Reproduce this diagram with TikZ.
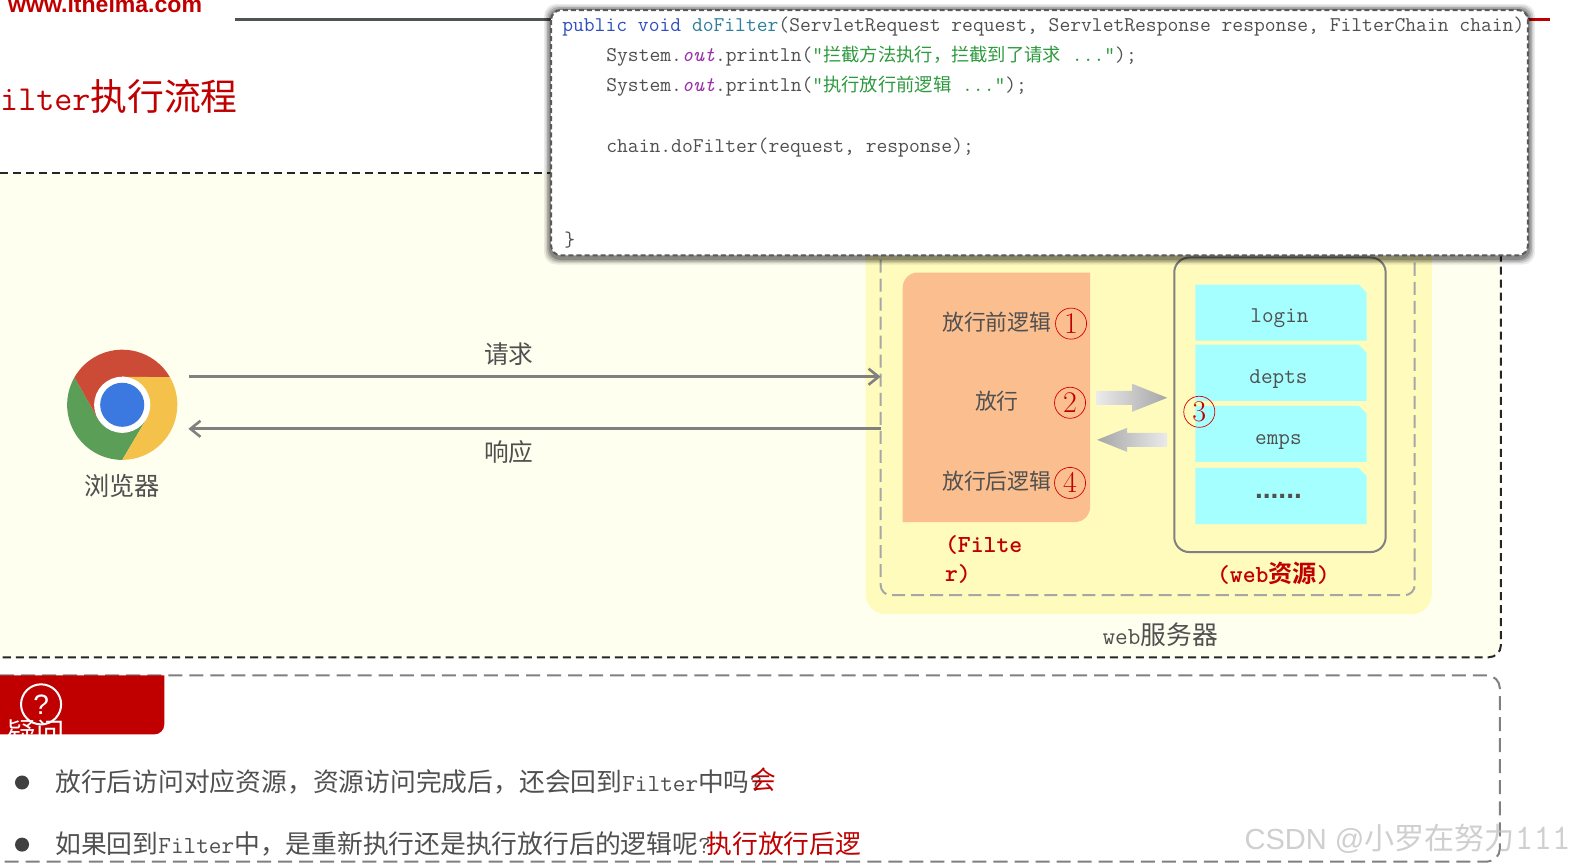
\documentclass[tikz,border=0pt]{standalone}
\usepackage{fontspec}
\usetikzlibrary{arrows.meta}
\newfontfamily\cj[Scale=1.05,BoldFont={Noto Sans CJK SC Bold}]{Noto Sans CJK SC}
\newfontfamily\hei{Liberation Sans}
\newcommand{\fs}[1]{\fontsize{#1}{#1}\selectfont}
\newcommand{\cc}[1]{{\cj #1}}
\newcommand{\sm}[1]{{\cj\fs{17.4}#1}}
\definecolor{brand}{HTML}{C00000}
\definecolor{paper}{HTML}{FFFFF0}
\definecolor{server}{HTML}{FFFBBD}
\definecolor{filterc}{HTML}{FBBE8E}
\definecolor{cyanb}{HTML}{A6FFFF}
\definecolor{txt}{HTML}{505050}
\definecolor{kw}{HTML}{2F4FBF}
\definecolor{fn}{HTML}{2F7F9F}
\definecolor{pur}{HTML}{9A2FA8}
\definecolor{str}{HTML}{2E9A3E}
\definecolor{rulec}{HTML}{4D5552}
\tikzset{
  x=1pt,y=1pt,
  lbl/.style={inner sep=0pt,text=txt,font=\ttfamily\fs{24.5}},
  codeline/.style={inner sep=0pt,anchor=base west,text=txt,font=\ttfamily\fs{20.95}},
  res/.style={inner sep=0pt,text=txt,font=\ttfamily\fs{22.5}},
  redbold/.style={inner sep=0pt,text=brand,font=\ttfamily\bfseries\fs{24.5}},
  numc/.style={circle,draw=red!85!black,line width=.7pt,minimum size=31pt,inner sep=0pt,text=brand,font=\fs{30}},
  flow/.style={draw=black!50,line width=3pt,-{Straight Barb[length=10pt,width=16pt,line width=2.6pt]}},
  snip/.style={fill=cyanb},
  wire/.style={line width=2pt,dash pattern=on 8pt off 5pt,draw=black!85},
}
\begin{document}
\begin{tikzpicture}
\useasboundingbox (0,0) rectangle (1568,-865);
\fill[white] (0,0) rectangle (1568,-865);
% header
\node[inner sep=0pt,anchor=base west,text=brand,font=\hei\bfseries\fs{23}] (site) at (8,-12) {www.itheima.com};
\coordinate (ruleA) at (235,-19);
\coordinate (ruleB) at (560,-19);
\draw[line width=3pt,draw=rulec] (ruleA) -- (ruleB);
\coordinate (ruleC) at (1520,-19);
\coordinate (ruleD) at (1547,-19);
\draw[line width=3pt,draw=brand] (ruleC) -- (ruleD);
\node[inner sep=0pt,anchor=base west,text=brand,font=\ttfamily\fs{35}] (title) at (0,-110) {ilter\cc{执行流程}};
% main panel
\fill[paper,rounded corners=12pt] (-20,-173) -- (1498,-173) -- (1498,-656) -- (-20,-656) -- cycle;
\draw[wire,rounded corners=12pt] (0,-173) -- (600,-173);
\draw[wire,rounded corners=12pt] (1498,-240) -- (1498,-656) -- (-5,-656);
% server
\fill[server,rounded corners=20pt] (864,-220) rectangle (1429,-613);
\draw[draw=black!35,line width=2pt,dash pattern=on 13pt off 6pt,rounded corners=10pt] (879,-240) -- (879,-594) -- (1412,-594) -- (1412,-240);
\fill[filterc] (901,-521) -- (901,-287) arc[start angle=180,end angle=90,radius=15] -- (1088,-272) -- (1088,-506) arc[start angle=0,end angle=-90,radius=15] -- cycle;
\draw[draw=black!50,line width=2pt,rounded corners=15pt] (1172,-257) rectangle (1383,-551);
\foreach \t in {284,344,405,467}{
  \fill[snip] (1193,-\t) -- (1356,-\t) -- (1364,-\t-8) -- (1364,-\t-56) -- (1193,-\t-56) -- cycle;
}
\node[res] (login) at (1277,-318) {login};
\node[res] (depts) at (1276,-378) {depts};
\node[res] (emps) at (1276,-441) {emps};
\node[res,font=\hei\bfseries\fs{28}] (more) at (1276,-495) {......};
\node[lbl] (before) at (995,-322) {\cc{\fs{20.8}放行前逻辑}};
\node[lbl] (pass) at (995,-400) {\cc{\fs{20.8}放行}};
\node[lbl] (after) at (995,-480) {\cc{\fs{20.8}放行后逻辑}};
\node[numc] (n1) at (1069,-323) {1};
\node[numc] (n2) at (1068,-402) {2};
\node[numc] (n3) at (1197,-411) {3};
\node[numc] (n4) at (1068,-482) {4};
\shade[left color=black!8,right color=black!35] (1094,-390) -- (1130,-390) -- (1130,-383) -- (1165,-397) -- (1130,-411) -- (1130,-404) -- (1094,-404) -- cycle;
\shade[left color=black!35,right color=black!8] (1165,-432) -- (1125,-432) -- (1125,-427) -- (1095,-439) -- (1125,-451) -- (1125,-446) -- (1165,-446) -- cycle;
\node[redbold,anchor=base west,align=left] (filt) at (943,-580.5) {(Filte\\[5pt]r)};
\node[redbold] (webres) at (1271,-572) {(web\cc{\fs{23}资源})};
\node[lbl] (server) at (1158,-633) {web\cc{服务器}};
% browser
\begin{scope}[shift={(122,-404)}]
\fill[fill={rgb,255:red,90;green,158;blue,87}] (150:55) arc[start angle=150,end angle=270,radius=55] -- (330:28) -- (0,0) -- (210:28) -- cycle;
\fill[fill={rgb,255:red,204;green,75;blue,55}] (30:55) arc[start angle=30,end angle=150,radius=55] -- (210:28) -- (0,0) -- (90:28) -- cycle;
\fill[fill={rgb,255:red,244;green,193;blue,74}] (-90:55) arc[start angle=-90,end angle=30,radius=55] -- (90:28) -- (0,0) -- (-30:28) -- cycle;
\fill[white] (0,0) circle[radius=28];
\fill[fill={rgb,255:red,59;green,120;blue,224}] (0,0) circle[radius=22];
\end{scope}
\node[lbl] (browser) at (122,-485) {\cc{\fs{24}浏览器}};
\coordinate (reqS) at (189,-376);
\coordinate (reqE) at (879,-376);
\coordinate (resS) at (879,-428);
\coordinate (resE) at (188,-428);
\draw[flow] (reqS) -- (reqE);
\draw[flow] (resS) -- (resE);
\node[lbl] (req) at (508,-353) {\cc{\fs{23.5}请求}};
\node[lbl] (resp) at (508,-451) {\cc{\fs{23.5}响应}};
% code card
\foreach \g/\o in {7/.08,5.5/.12,4/.16,2.5/.2}{
  \fill[black,opacity=\o,rounded corners=12pt] (550-\g,-10+\g-1) rectangle (1525+\g,-255-\g-2);
}
\fill[white,rounded corners=10pt] (550,-10) rectangle (1525,-255);
\draw[draw=black!65,line width=2pt,dash pattern=on 5pt off 3pt,rounded corners=10pt] (550,-10) rectangle (1525,-255);
\node[codeline] (c1) at (561,-31) {\textcolor{kw}{public void} \textcolor{fn}{doFilter}(ServletRequest request, ServletResponse response, FilterChain chain)};
\node[codeline] (c2) at (605,-61) {System.\textcolor{pur}{\itshape out}.println(\textcolor{str}{"\sm{拦截方法执行，拦截到了请求} ..."});};
\node[codeline] (c3) at (605,-91) {System.\textcolor{pur}{\itshape out}.println(\textcolor{str}{"\sm{执行放行前逻辑} ..."});};
\node[codeline] (c4) at (605,-152) {chain.doFilter(request, response);};
\node[codeline] (c5) at (563,-246) {\}};
% question panel
\draw[draw=black!50,line width=2pt,dash pattern=on 14pt off 7pt,rounded corners=13pt] (0,-674) -- (1497,-674) -- (1497,-860) -- (-5,-860);
\fill[brand] (0,-674) -- (164,-674) -- (164,-723) arc[start angle=0,end angle=-90,radius=10] -- (0,-733) -- cycle;
\begin{scope}
\clip (0,-674) rectangle (164,-733);
\node[inner sep=0pt,text=white,font=\fs{27}] (ask) at (36,-731) {\cc{疑问}};
\end{scope}
\node[circle,draw=white,line width=2pt,minimum size=40pt,inner sep=0pt,text=white,font=\hei\fs{28}] (qm) at (41,-703) {?};
\fill[black!75] (22,-781) circle[radius=7];
\fill[black!75] (22,-843) circle[radius=7];
\node[lbl,anchor=base west] (q1) at (55,-790) {\cc{放行后访问对应资源，资源访问完成后，还会回到}Filter\cc{中吗}?};
\node[inner sep=0pt,text=brand,font=\fs{24.5}] (a1) at (762,-778) {\cc{会}};
\node[lbl,anchor=base west] (q2) at (55,-852) {\cc{如果回到}Filter\cc{中，是重新执行还是执行放行后的逻辑呢}?};
\node[inner sep=0pt,anchor=base west,text=brand,font=\fs{24.5}] (a2) at (705,-852) {\cc{执行放行后逻}};
% watermark
\node[inner sep=0pt,anchor=base west,text=black!25,opacity=.75,font=\hei\fs{29}] (mark) at (1242,-848) {CSDN @\cc{\fs{28.6}小罗在努力}{\ttfamily\fs{36}111}};
\end{tikzpicture}
\end{document}
